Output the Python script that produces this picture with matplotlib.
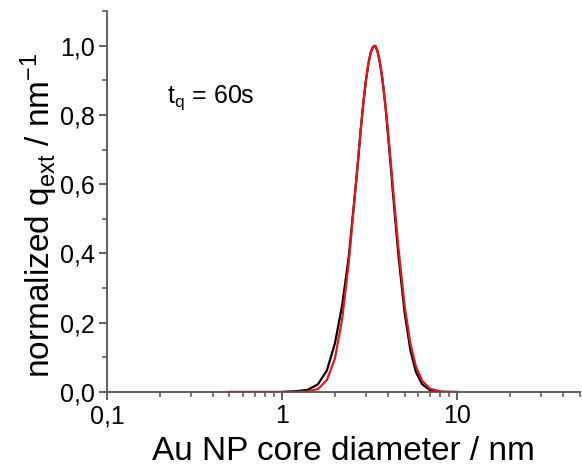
import numpy as np
import matplotlib.pyplot as plt
from matplotlib.ticker import FixedLocator, FuncFormatter, LogLocator, MultipleLocator

plt.rcParams['font.family'] = ['Liberation Sans', 'DejaVu Sans']
plt.rcParams['mathtext.fontset'] = 'custom'
plt.rcParams['mathtext.rm'] = 'Liberation Sans'
plt.rcParams['mathtext.it'] = 'Liberation Sans:italic'

# size distributions (diameter in nm, normalized q_ext)
d_black = [1.0, 1.2, 1.4, 1.6, 1.8, 2.0, 2.2, 2.4, 2.6, 2.7, 2.8, 2.9, 3.0,
           3.1, 3.2, 3.3, 3.4, 3.5, 3.6, 3.7, 3.8, 3.9, 4.0, 4.15, 4.3, 4.6,
           5.0, 5.4, 5.8, 6.3, 7.0, 8.0]
q_black = [0.0, 0.002, 0.006, 0.022, 0.062, 0.14, 0.25, 0.39, 0.57, 0.655,
           0.75, 0.829, 0.895, 0.946, 0.98, 0.997, 1.0, 0.985, 0.955, 0.918,
           0.87, 0.818, 0.755, 0.665, 0.57, 0.40, 0.23, 0.12, 0.058, 0.022,
           0.005, 0.0005]

d_red = [0.5, 0.8, 1.0, 1.2, 1.4, 1.6, 1.8, 2.0, 2.2, 2.4, 2.6, 2.7, 2.8,
         2.9, 3.0, 3.1, 3.2, 3.3, 3.4, 3.5, 3.6, 3.7, 3.8, 3.9, 4.0, 4.15,
         4.3, 4.6, 5.0, 5.4, 5.8, 6.3, 7.0, 8.0, 10.0]
q_red = [0.0, 0.0, 0.0, 0.0001, 0.0013, 0.0083, 0.034, 0.096, 0.21, 0.374,
         0.566, 0.661, 0.75, 0.829, 0.895, 0.946, 0.98, 0.997, 0.999, 0.985,
         0.958, 0.921, 0.875, 0.822, 0.765, 0.676, 0.586, 0.421, 0.25, 0.139,
         0.074, 0.032, 0.009, 0.0014, 0.0]

fig = plt.figure(figsize=(5.82, 4.66), dpi=100)
ax = fig.add_axes([0.184, 0.159, 0.812, 0.817])

ax.plot(d_black, q_black, color='black', lw=1.6)
ax.plot(d_red, q_red, color='#e8141c', lw=1.6)

ax.set_xscale('log')
ax.set_xlim(0.1, 50)
ax.set_ylim(0, 1.1)

ax.xaxis.set_major_locator(FixedLocator([0.1, 1, 10]))
ax.xaxis.set_minor_locator(LogLocator(base=10, subs=np.arange(2, 10)))
ax.xaxis.set_major_formatter(FuncFormatter(lambda v, p: ('%g' % v).replace('.', ',')))
ax.yaxis.set_major_locator(MultipleLocator(0.2))
ax.yaxis.set_minor_locator(MultipleLocator(0.1))
ax.yaxis.set_major_formatter(FuncFormatter(lambda v, p: ('%.1f' % v).replace('.', ',')))

for s in ['top', 'right']:
    ax.spines[s].set_visible(False)
for s in ['left', 'bottom']:
    ax.spines[s].set_color('#555555')
    ax.spines[s].set_linewidth(1.3)

ax.tick_params(which='major', direction='out', length=6, width=1.3,
               color='#555555', labelsize=18, pad=3)
ax.tick_params(which='minor', direction='out', length=3.5, width=1.1,
               color='#555555')

ax.set_xlabel('Au NP core diameter / nm', fontsize=24)
ax.set_ylabel(r'normalized q$_{\mathrm{ext}}$ / nm$^{\mathrm{-1}}$', fontsize=24)
ax.xaxis.set_label_coords(0.5, -0.115)
ax.yaxis.set_label_coords(-0.10, 0.465)
ax.text(0.22, 0.85, r't$_{\mathrm{q}}$ = 60s', fontsize=18, ha='left', va='center')

fig.savefig('out.png', dpi=100)
